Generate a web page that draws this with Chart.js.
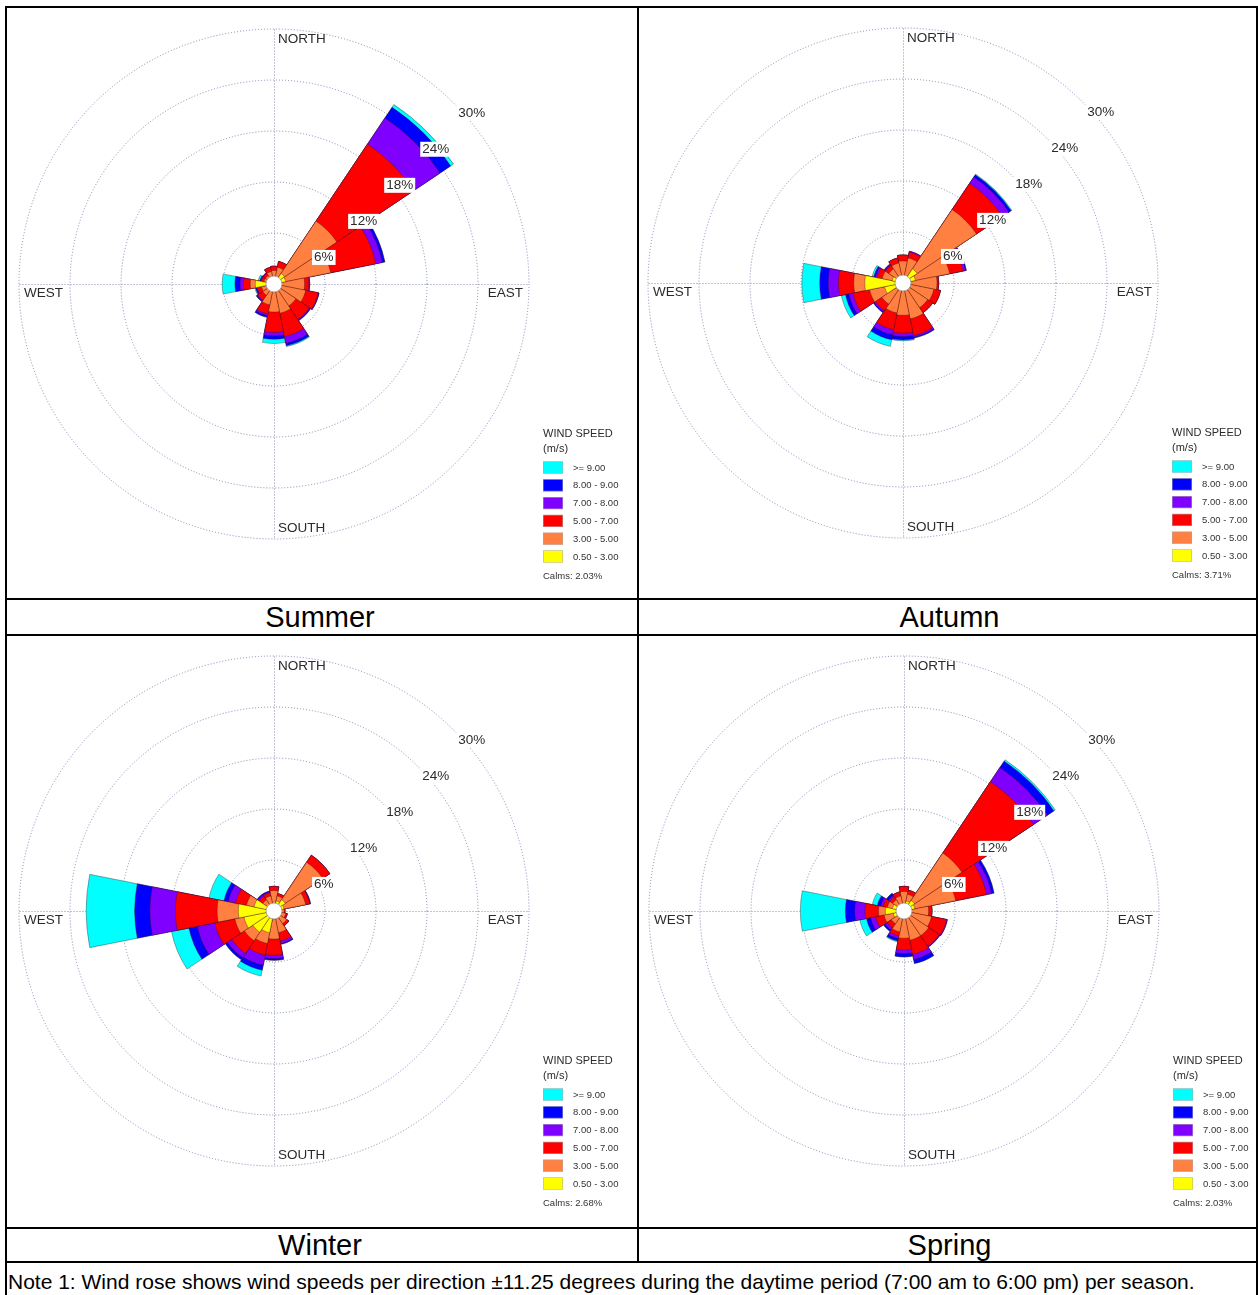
<!DOCTYPE html>
<html>
<head>
<meta charset="utf-8">
<script src="https://cdn.jsdelivr.net/npm/chart.js@4.4.0/dist/chart.umd.min.js"></script>
<style>
  body { margin: 0; background: #fff; font-family: "Liberation Sans", Arial, sans-serif; }
  #page { position: relative; width: 1258px; height: 1295px; overflow: hidden; }
  .line { position: absolute; background: #000; }
  canvas { position: absolute; }
  .caption { position: absolute; height: 34px; line-height: 34px; text-align: center; font-size: 29px; color: #000; }
  .note { position: absolute; left: 8px; top: 1264px; line-height: 36px; font-size: 21px; white-space: nowrap; }
</style>
</head>
<body>
<div id="page">
  <canvas id="summerChart" width="630" height="590" style="left:7px;top:8px"></canvas>
  <canvas id="autumnChart" width="617" height="590" style="left:639px;top:8px"></canvas>
  <canvas id="winterChart" width="630" height="590" style="left:7px;top:636px"></canvas>
  <canvas id="springChart" width="617" height="590" style="left:639px;top:636px"></canvas>

  <div class="caption" style="left:5px;top:600px;width:630px">Summer</div>
  <div class="caption" style="left:641px;top:600px;width:617px">Autumn</div>
  <div class="caption" style="left:5px;top:1229px;width:630px;height:32px;line-height:32px">Winter</div>
  <div class="caption" style="left:641px;top:1229px;width:617px;height:32px;line-height:32px">Spring</div>
  <div class="note">Note 1: Wind rose shows wind speeds per direction ±11.25 degrees during the daytime period (7:00 am to 6:00 pm) per season.</div>

  <div class="line" style="left:5px;top:6px;width:1253px;height:2px"></div>
  <div class="line" style="left:5px;top:598px;width:1253px;height:2px"></div>
  <div class="line" style="left:5px;top:634px;width:1253px;height:2px"></div>
  <div class="line" style="left:5px;top:1227px;width:1253px;height:2px"></div>
  <div class="line" style="left:5px;top:1261px;width:1253px;height:2px"></div>
  <div class="line" style="left:5px;top:6px;width:2px;height:1289px"></div>
  <div class="line" style="left:637px;top:6px;width:2px;height:1257px"></div>
  <div class="line" style="left:1256px;top:6px;width:2px;height:1289px"></div>
</div>

<script>
const directions = ['N', 'NNE', 'NE', 'ENE', 'E', 'ESE', 'SE', 'SSE', 'S', 'SSW', 'SW', 'WSW', 'W', 'WNW', 'NW', 'NNW'];
const speedClasses = ['0.50 - 3.00', '3.00 - 5.00', '5.00 - 7.00', '7.00 - 8.00', '8.00 - 9.00', '>= 9.00'];
const speedColors = ['#ffff00', '#ff8040', '#ff0000', '#8000ff', '#0000ff', '#00ffff'];
const ringTicks = [6, 12, 18, 24, 30];

// frequency (%) per direction, one array per speed class

// ===== Summer =====
const summer05to3 = [0.7, 0.6, 1.5, 1.4, 0.8, 0.6, 0.6, 0.6, 0.6, 0.5, 0.5, 0.8, 2.2, 0.8, 0.7, 0.6];
const summer3to5 = [0.9, 1.4, 7.4, 5.4, 2.8, 3.2, 2.5, 2.9, 2.7, 2.0, 1.1, 0.7, 0.6, 0.4, 0.5, 0.9];
const summer5to7 = [0.5, 0.7, 10.9, 5.4, 0.5, 1.5, 1.9, 2.8, 2.4, 1.1, 0.7, 0.5, 0.8, 0.3, 0.3, 0.5];
const summer7to8 = [0, 0, 3.7, 0.8, 0.1, 0.1, 0.1, 0.8, 0.4, 0.2, 0.1, 0.1, 0.4, 0.1, 0.1, 0];
const summer8to9 = [0, 0, 1.5, 0.3, 0, 0, 0.1, 0.3, 0.4, 0.2, 0.1, 0.1, 0.6, 0.1, 0, 0];
const summerOver9 = [0, 0, 0.4, 0, 0, 0, 0, 0.1, 0.5, 0, 0, 0.1, 1.5, 0.2, 0, 0];

// ===== Autumn =====
const autumn05to3 = [0.7, 0.8, 2.0, 1.5, 0.8, 0.8, 0.7, 0.7, 0.7, 0.8, 1.0, 2.2, 4.5, 1.3, 0.9, 0.7];
const autumn3to5 = [1.9, 2.2, 8.4, 4.1, 3.2, 2.9, 2.8, 3.6, 3.1, 2.8, 2.0, 1.8, 1.3, 1.2, 1.1, 1.7];
const autumn5to7 = [0.7, 0.7, 3.7, 1.6, 0.2, 0.8, 0.7, 2.0, 2.1, 2.0, 0.9, 2.0, 1.8, 0.6, 0.5, 0.6];
const autumn7to8 = [0, 0.1, 0.9, 0.3, 0, 0, 0, 0.2, 0.4, 0.6, 0.2, 0.5, 1.2, 0.2, 0.1, 0];
const autumn8to9 = [0, 0, 0.3, 0.1, 0, 0, 0, 0.1, 0.4, 0.6, 0.1, 0.4, 1.0, 0.2, 0.1, 0];
const autumnOver9 = [0, 0, 0.1, 0, 0, 0, 0, 0, 0.1, 0.8, 0, 0.5, 2.1, 0.2, 0, 0];

// ===== Winter =====
const winter05to3 = [0.8, 1.2, 1.6, 1.2, 0.6, 0.6, 0.8, 0.8, 1.0, 2.6, 3.0, 3.6, 4.2, 2.4, 0.8, 0.7];
const winter3to5 = [1.6, 0.6, 5.3, 2.6, 0.6, 0.8, 1.0, 1.8, 2.3, 1.3, 1.2, 1.1, 2.5, 0.9, 0.8, 1.1];
const winter5to7 = [0.5, 0.3, 1.0, 0.5, 0.1, 0.2, 0.3, 1.0, 1.9, 1.4, 1.8, 2.4, 4.9, 1.3, 0.5, 0.4];
const winter7to8 = [0, 0, 0, 0, 0, 0, 0, 0.3, 0.4, 1.2, 0.6, 2.1, 3.0, 0.9, 0.2, 0.1];
const winter8to9 = [0, 0, 0, 0.1, 0, 0, 0, 0.1, 0.2, 0.6, 0.3, 1.0, 1.8, 0.5, 0.1, 0.1];
const winterOver9 = [0, 0, 0, 0, 0, 0, 0, 0, 0, 0.7, 0, 2.1, 5.7, 1.8, 0, 0];

// ===== Spring =====
const spring05to3 = [0.7, 1.2, 1.5, 1.3, 0.7, 0.7, 0.6, 0.7, 0.6, 0.6, 0.6, 1.3, 2.2, 1.4, 0.7, 0.6];
const spring3to5 = [1.6, 0.8, 6.7, 4.9, 2.2, 2.6, 2.9, 2.8, 2.6, 1.9, 1.2, 1.1, 0.8, 0.6, 0.9, 1.2];
const spring5to7 = [0.6, 0.5, 10.1, 3.7, 0.4, 1.8, 1.5, 1.7, 1.4, 0.5, 0.6, 1.0, 1.6, 0.5, 0.4, 0.5];
const spring7to8 = [0, 0, 2.0, 0.6, 0, 0.1, 0.1, 0.6, 0.4, 0.3, 0.3, 0.6, 1.2, 0.3, 0.2, 0];
const spring8to9 = [0, 0, 0.9, 0.3, 0, 0, 0, 0.5, 0.4, 0.3, 0.2, 0.5, 1.1, 0.4, 0.3, 0];
const springOver9 = [0, 0, 0.2, 0, 0, 0, 0, 0, 0, 0.1, 0, 0.8, 5.3, 0.6, 0, 0];

const calms = { summer: '2.03%', autumn: '3.71%', winter: '2.68%', spring: '2.03%' };

const lineColor = 'rgba(105, 110, 165, 0.8)';
const labelFont = '13.5px "Liberation Sans", Arial, sans-serif';
const legendFont = '9.5px "Liberation Sans", Arial, sans-serif';

Chart.defaults.font.family = '"Liberation Sans", Arial, sans-serif';

// crosshair, calm circle, ring labels, compass labels and the legend box
const roseDecor = {
  id: 'roseDecor',

  beforeDatasetsDraw(chart) {
    const r = chart.scales.r;
    const ctx = chart.ctx;
    const R = r.getDistanceFromCenterForValue(r.max);
    const x = r.xCenter + 0.5;
    const y = r.yCenter + 0.5;

    ctx.save();
    ctx.strokeStyle = lineColor;
    ctx.lineWidth = 1;
    ctx.setLineDash([1, 2]);
    ctx.beginPath();
    ctx.moveTo(x, y - R);
    ctx.lineTo(x, y + R);
    ctx.moveTo(x - R, y);
    ctx.lineTo(x + R, y);
    ctx.stroke();
    ctx.restore();
  },

  afterDatasetsDraw(chart, args, opts) {
    const r = chart.scales.r;
    const ctx = chart.ctx;
    const R = r.getDistanceFromCenterForValue(r.max);
    const cx = r.xCenter;
    const cy = r.yCenter;

    ctx.save();

    // calm circle
    ctx.beginPath();
    ctx.arc(cx, cy, 8, 0, Math.PI * 2);
    ctx.fillStyle = '#fff';
    ctx.fill();
    ctx.strokeStyle = '#999';
    ctx.lineWidth = 0.8;
    ctx.stroke();

    // ring labels along the NE diagonal
    ctx.font = labelFont;
    ctx.textBaseline = 'top';
    ctx.textAlign = 'left';
    ringTicks.forEach(v => {
      const d = r.getDistanceFromCenterForValue(v);
      const px = cx + d * Math.SQRT1_2;
      const py = cy - d * Math.SQRT1_2;
      const txt = v + '%';
      const w = ctx.measureText(txt).width;
      ctx.fillStyle = '#fff';
      ctx.fillRect(px + 2, py + 2, w + 4, 15);
      ctx.fillStyle = '#2b2b2b';
      ctx.fillText(txt, px + 4, py + 3);
    });

    // compass labels
    ctx.fillStyle = '#2b2b2b';
    ctx.fillText('NORTH', cx + 4, cy - R + 4);
    ctx.fillText('WEST', cx - R + 5, cy + 3);
    ctx.textAlign = 'right';
    ctx.fillText('EAST', cx + R - 6, cy + 3);
    ctx.textAlign = 'left';
    ctx.textBaseline = 'alphabetic';
    ctx.fillText('SOUTH', cx + 4, cy + R - 7);

    // legend
    const lx = cx + 269;
    const ly = cy + 144;
    ctx.font = '11px "Liberation Sans", Arial, sans-serif';
    ctx.textBaseline = 'top';
    ctx.fillText('WIND SPEED', lx, ly);
    ctx.fillText('(m/s)', lx, ly + 15);

    ctx.font = legendFont;
    ctx.textBaseline = 'middle';
    for (let i = 0; i < speedClasses.length; i++) {
      const k = speedClasses.length - 1 - i;
      const by = cy + 177.5 + i * 17.8;
      ctx.fillStyle = speedColors[k];
      ctx.fillRect(lx, by, 20, 12);
      ctx.strokeStyle = '#aaa';
      ctx.lineWidth = 0.5;
      ctx.strokeRect(lx + 0.25, by + 0.25, 19.5, 11.5);
      ctx.fillStyle = '#333';
      ctx.fillText(speedClasses[k], lx + 30, by + 6.5);
    }
    ctx.textBaseline = 'top';
    ctx.fillText('Calms: ' + opts.calms, lx, cy + 288);

    ctx.restore();
  }
};

function cumulative(bins) {
  let run = new Array(directions.length).fill(0);
  return bins.map(b => {
    run = run.map((v, i) => Math.round((v + b[i]) * 100) / 100);
    return run;
  });
}

function makeRose(id, bins, calm, pad) {
  const stacked = cumulative(bins);

  new Chart(document.getElementById(id), {
    type: 'polarArea',

    data: {
      labels: directions,

      datasets: stacked.map((data, k) => ({
        label: speedClasses[k],
        data: data,
        backgroundColor: speedColors[k],
        borderColor: 'rgba(60, 15, 15, 0.6)',
        borderWidth: 0.6
      }))
    },

    options: {
      responsive: false,
      animation: false,
      layout: { padding: pad },

      scales: {
        r: {
          min: 0,
          max: 30,
          startAngle: -11.25,
          ticks: { display: false, stepSize: 6 },
          grid: { circular: true, color: lineColor, lineWidth: 1 },
          border: { dash: [1, 2] },
          angleLines: { display: false },
          pointLabels: { display: false }
        }
      },

      plugins: {
        legend: { display: false },
        tooltip: { enabled: false },
        roseDecor: { calms: calm }
      }
    },

    plugins: [roseDecor]
  });
}

makeRose('summerChart',
  [summer05to3, summer3to5, summer5to7, summer7to8, summer8to9, summerOver9],
  calms.summer, { left: 12, top: 21, right: 108, bottom: 59 });

makeRose('autumnChart',
  [autumn05to3, autumn3to5, autumn5to7, autumn7to8, autumn8to9, autumnOver9],
  calms.autumn, { left: 9, top: 20, right: 98, bottom: 60 });

makeRose('winterChart',
  [winter05to3, winter3to5, winter5to7, winter7to8, winter8to9, winterOver9],
  calms.winter, { left: 12, top: 20, right: 108, bottom: 60 });

makeRose('springChart',
  [spring05to3, spring3to5, spring5to7, spring7to8, spring8to9, springOver9],
  calms.spring, { left: 10, top: 20, right: 97, bottom: 60 });
</script>
</body>
</html>
